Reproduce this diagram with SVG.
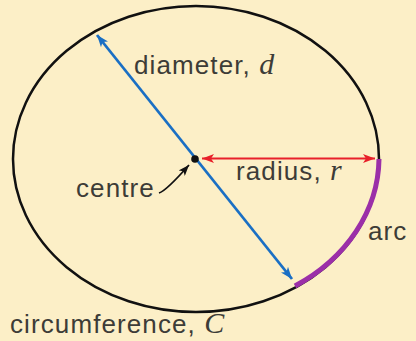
<svg xmlns="http://www.w3.org/2000/svg" width="416" height="341" viewBox="0 0 416 341">
<style>
.lbl{font-family:"Liberation Sans",Arial,sans-serif;font-size:26px;letter-spacing:1.1px;fill:#3d3c37}
.var{font-family:"Liberation Serif","Times New Roman",serif;font-style:italic;font-size:30px;letter-spacing:0}
</style>
<defs>
<marker id="ab" viewBox="0 0 12 9" refX="12" refY="4.5" markerUnits="userSpaceOnUse" markerWidth="12" markerHeight="9" orient="auto-start-reverse"><path d="M0,0 L12,4.5 L0,9 L3,4.5 z" fill="#1a6fc4"/></marker>
<marker id="ar" viewBox="0 0 12 9" refX="12" refY="4.5" markerUnits="userSpaceOnUse" markerWidth="12" markerHeight="9" orient="auto-start-reverse"><path d="M0,0 L12,4.5 L0,9 L3,4.5 z" fill="#e8202a"/></marker>
<marker id="ak" viewBox="0 0 12 9" refX="12" refY="4.5" markerUnits="userSpaceOnUse" markerWidth="11" markerHeight="8.5" orient="auto"><path d="M0,0 L12,4.5 L0,9 L3,4.5 z" fill="#111"/></marker>
</defs>
<rect width="416" height="341" fill="#fcefc7"/>
<g id="circle"><ellipse cx="196" cy="159" rx="183" ry="153" fill="none" stroke="#111" stroke-width="2.5"/></g>
<g id="arc"><path d="M379,159 A183,153 0 0 1 295,286" fill="none" stroke="#9b2fa8" stroke-width="5"/></g>
<g id="connectors">
<line x1="97" y1="35" x2="292" y2="279" stroke="#1a6fc4" stroke-width="2.8" marker-start="url(#ab)" marker-end="url(#ab)"/>
<line x1="202" y1="158.5" x2="375" y2="158.5" stroke="#e8202a" stroke-width="2" marker-start="url(#ar)" marker-end="url(#ar)"/>
<path d="M159,193 Q166,191 189,165" fill="none" stroke="#111" stroke-width="1.8" marker-end="url(#ak)"/>
</g>
<g id="centre"><circle cx="195" cy="159" r="3.8" fill="#111"/></g>
<g id="labels">
<text class="lbl" x="134" y="74">diameter, <tspan class="var">d</tspan></text>
<text class="lbl" x="236" y="180">radius, <tspan class="var">r</tspan></text>
<text class="lbl" x="76" y="197">centre</text>
<text class="lbl" x="368" y="240">arc</text>
<text class="lbl" x="10" y="333">circumference, <tspan class="var">C</tspan></text>
</g>
</svg>
